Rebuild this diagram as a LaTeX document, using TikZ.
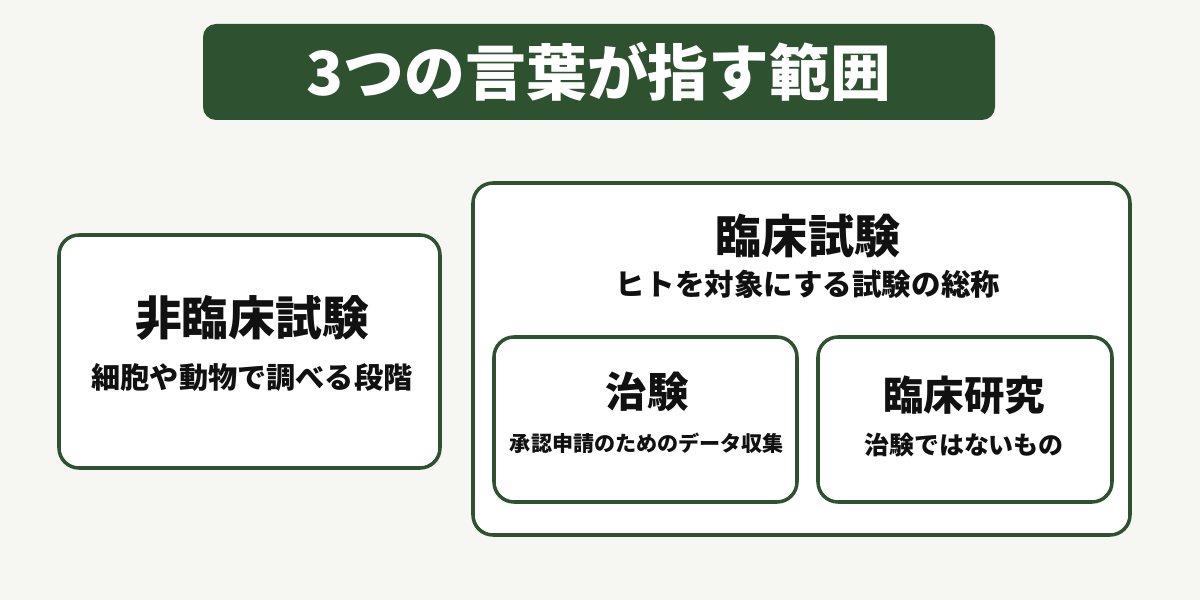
\documentclass[tikz,border=0pt]{standalone}
\usepackage{fontspec}
\newfontfamily\jpfont{Noto Sans CJK JP}
\usetikzlibrary{positioning}
\definecolor{deepgreen}{HTML}{2E5230}
\definecolor{paper}{HTML}{F6F6F2}
\definecolor{ink}{HTML}{111111}
\tikzset{
	panel/.style={draw=deepgreen, line width=1pt, fill=white, rounded corners=0.2cm},
	headtext/.style={text=ink, inner sep=0pt, font=\jpfont\bfseries\fontsize{#1}{#1}\selectfont},
	subtext/.style={text=ink, inner sep=0pt, font=\jpfont\bfseries\fontsize{#1}{#1}\selectfont},
}
\begin{document}
\begin{tikzpicture}
		\fill[paper] (0,0) rectangle (12,6) ;
		\useasboundingbox (0,0) rectangle (12,6) ;
		% title banner
		\node[fill=deepgreen, rounded corners=0.13cm, minimum width=7.92cm, minimum height=0.96cm] (Banner) at (5.99,5.28) {} ;
		\node[text=white, inner sep=0pt, font=\jpfont\bfseries\fontsize{17.3}{17.3}\selectfont] (BannerText) at (Banner.center) {3つの言葉が指す範囲} ;
		% boxes
		\node[panel, minimum width=3.81cm, minimum height=2.33cm] (Nonclin) at (2.495,2.485) {} ;
		\node[panel, minimum width=6.57cm, minimum height=3.52cm] (Clin) at (8.015,2.41) {} ;
		\node[panel, minimum width=3.03cm, minimum height=1.65cm] (Chiken) at (6.455,1.805) {} ;
		\node[panel, minimum width=2.94cm, minimum height=1.65cm] (Research) at (9.65,1.805) {} ;
		% labels
		\node[headtext=13.3] (NonclinHead) at (2.52,2.82) {非臨床試験} ;
		\node[subtext=8.3, below=0.22cm of NonclinHead] (NonclinSub) {細胞や動物で調べる段階} ;
		\node[headtext=13.1] (ClinHead) at (8.08,3.635) {臨床試験} ;
		\node[subtext=8.4, below=0.1cm of ClinHead] (ClinSub) {ヒトを対象にする試験の総称} ;
		\node[headtext=11.8] (ChikenHead) at (6.47,2.08) {治験} ;
		\node[subtext=6.0, below=0.2cm of ChikenHead] (ChikenSub) {承認申請のためのデータ収集} ;
		\node[headtext=11.5] (ResearchHead) at (9.64,2.05) {臨床研究} ;
		\node[subtext=7.1, below=0.17cm of ResearchHead] (ResearchSub) {治験ではないもの} ;
	\end{tikzpicture}
\end{document}
